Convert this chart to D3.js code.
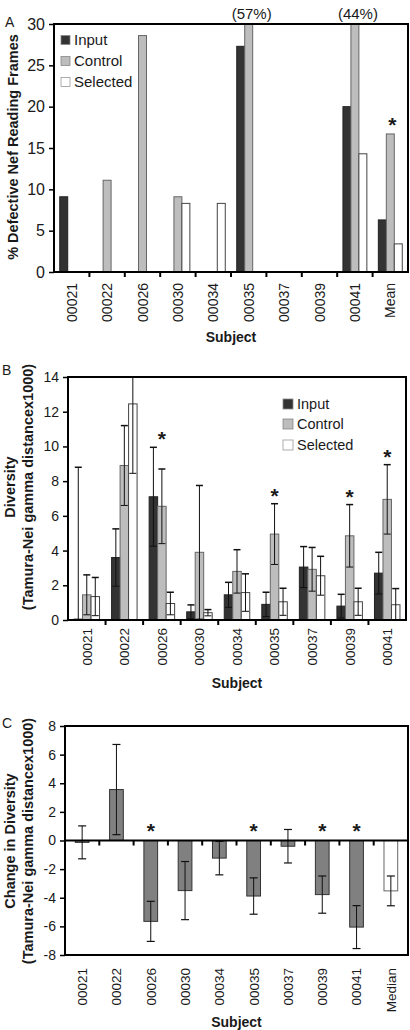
<!DOCTYPE html>
<html><head><meta charset="utf-8">
<script src="https://cdn.jsdelivr.net/npm/d3@7"></script>
<style>
body{margin:0;background:#fff}
svg{display:block}
text{font-family:"Liberation Sans",Arial,sans-serif;fill:#1a1a1a}
</style>
</head><body>
<svg id="c" width="410" height="1030"></svg>
<script>
// ---------------- DATA ----------------
const series = ["Input","Control","Selected"];
// Panel A: % defective Nef reading frames
const subjectsA = ["00021","00022","00026","00030","00034","00035","00037","00039","00041","Mean"];
const inputA    = [9.1, 0,    0,    0,   0,   27.3, 0, 0, 20.0, 6.3];
const controlA  = [0,   11.1, 28.6, 9.1, 0,   57,   0, 0, 44,   16.7];
const selectedA = [0,   0,    0,    8.3, 8.3, 0,    0, 0, 14.3, 3.4];
const ticksA = [0,5,10,15,20,25,30];
const starsA = [{s:"Mean", k:"Control"}];

// Panel B: diversity
const subjectsB = ["00021","00022","00026","00030","00034","00035","00037","00039","00041"];
const inputB       = [0.05, 3.6,  7.1,  0.47, 1.45, 0.9,  3.05, 0.8,  2.7];
const inputErrB    = [8.75, 1.65, 2.85, 0.4,  0.72, 0.7,  1.18, 0.68, 1.2];
const controlB     = [1.45, 8.9,  6.55, 3.9,  2.8,  4.95, 2.92, 4.85, 6.95];
const controlErrB  = [1.15, 2.3,  2.15, 3.85, 1.25, 1.75, 1.26, 1.8,  2.0];
const selectedB    = [1.35, 12.45,0.95, 0.42, 1.58, 1.05, 2.55, 1.05, 0.88];
const selectedErrB = [1.1,  4.0,  0.65, 0.18, 1.08, 0.78, 1.12, 0.78, 0.93];
const ticksB = [0,2,4,6,8,10,12,14];
const starsB = ["00026","00035","00039","00041"];

// Panel C: change in diversity
const subjectsC = ["00021","00022","00026","00030","00034","00035","00037","00039","00041","Median"];
const changeC    = [-0.13, 3.56, -5.65, -3.5,  -1.23, -3.88, -0.4,  -3.78, -6.05, -3.52];
const changeErrC = [1.15,  3.15, 1.4,   2.03,  1.17,  1.27,  1.17,  1.3,   1.5,   1.04];
const ticksC = [-8,-6,-4,-2,0,2,4,6,8];
const starsC = ["00026","00035","00039","00041"];

// ---------------- STYLE ----------------
const fills = {Input:"#333333", Control:"#bdbdbd", Selected:"#ffffff"};
const strokes = {Input:"#222", Control:"#666", Selected:"#444"};
const svg = d3.select("#c");

function yAxis(g, y, ticks, fs, x0){
  const ax = g.append("g").attr("transform",`translate(${x0},0)`)
    .call(d3.axisLeft(y).tickValues(ticks).tickSize(5).tickPadding(4).tickFormat(d=>String(d)));
  ax.select(".domain").remove();
  ax.selectAll("line").attr("stroke","#000").attr("stroke-width",1.5);
  ax.selectAll("text").attr("font-size",fs).attr("fill","#222").style("font-family",'"Liberation Sans",Arial,sans-serif');
}
function frame(g, x0, x1, y0, y1){
  g.append("rect").attr("x",x0).attr("y",y0).attr("width",x1-x0).attr("height",y1-y0)
    .attr("fill","none").attr("stroke","#000").attr("stroke-width",2);
}
function boundaryTicks(g, x, yLine, len){
  const b = x.domain().map(s=>x(s)).slice(1);
  g.selectAll(null).data(b).join("line")
    .attr("x1",d=>d).attr("x2",d=>d).attr("y1",yLine).attr("y2",yLine+len)
    .attr("stroke","#000").attr("stroke-width",2);
}
function xLabels(g, x, top, fs){
  g.selectAll(null).data(x.domain()).join("text")
    .attr("transform",d=>`translate(${x(d)+x.bandwidth()/2+fs*0.36},${top}) rotate(-90)`)
    .attr("text-anchor","end").attr("font-size",fs).text(d=>d);
}
function rotLabel(g, lines, cy, fs){
  lines.forEach(l=>{
    g.append("text").attr("transform",`translate(${l.x},${cy}) rotate(-90)`)
      .attr("text-anchor","middle").attr("font-size",fs).attr("font-weight","bold").text(l.t);
  });
}
function legend(g, x0, ys, fs, sq){
  series.forEach((k,i)=>{
    g.append("rect").attr("x",x0).attr("y",ys[i]-sq/2).attr("width",sq).attr("height",sq)
      .attr("fill",fills[k]).attr("stroke",k==="Selected"?"#999":"#888").attr("stroke-width",0.8);
    g.append("text").attr("x",x0+sq+4).attr("y",ys[i]+fs*0.36).attr("font-size",fs).text(k);
  });
}
function star(sel){
  return sel.attr("text-anchor","middle").attr("font-size",21).attr("font-weight","bold").text("*");
}

// ---------------- PANEL A ----------------
(function(){
  const g = svg.append("g");
  const L=54, R=408, T=24, B=272;
  const x = d3.scaleBand().domain(subjectsA).range([L,R]);
  const xi = d3.scaleBand().domain(series).range([0,x.bandwidth()]).paddingOuter(0.72);
  const y = d3.scaleLinear().domain([0,30]).range([B,T]);
  const vals = {Input:inputA, Control:controlA, Selected:selectedA};
  const data = subjectsA.flatMap((s,i)=>series.map(k=>({s,k,v:vals[k][i]}))).filter(d=>d.v>0);
  g.selectAll(null).data(data).join("rect")
    .attr("x",d=>x(d.s)+xi(d.k)).attr("width",xi.bandwidth())
    .attr("y",d=>y(Math.min(d.v,30))).attr("height",d=>y(0)-y(Math.min(d.v,30)))
    .attr("fill",d=>fills[d.k]).attr("stroke",d=>strokes[d.k]).attr("stroke-width",1);
  // off-scale labels
  g.selectAll(null).data(data.filter(d=>d.v>30)).join("text")
    .attr("x",d=>x(d.s)+xi(d.k)+xi.bandwidth()/2+3).attr("y",T-5)
    .attr("text-anchor","middle").attr("font-size",15).text(d=>`(${d.v}%)`);
  // stars
  star(g.selectAll(null).data(starsA).join("text")
    .attr("x",d=>x(d.s)+xi(d.k)+xi.bandwidth()/2+2)
    .attr("y",d=>y(controlA[subjectsA.indexOf(d.s)])-2));
  frame(g,L,R,T,B);
  yAxis(g,y,ticksA,16,L);
  boundaryTicks(g,x,B,5);
  xLabels(g,x,B+11,14);
  g.append("text").attr("x",(L+R)/2).attr("y",342).attr("text-anchor","middle")
    .attr("font-size",14).attr("font-weight","bold").text("Subject");
  rotLabel(g,[{x:18,t:"% Defective Nef Reading Frames"}],147,14.5);
  g.append("text").attr("x",5).attr("y",27).attr("font-size",14).text("A");
  legend(g,61,[40,61,82],15,9);
})();

// ---------------- PANEL B ----------------
(function(){
  const g = svg.append("g");
  const L=68, R=406, T=377, B=620;
  const x = d3.scaleBand().domain(subjectsB).range([L,R]);
  const xi = d3.scaleBand().domain(series).range([0,x.bandwidth()]).paddingOuter(0.71);
  const y = d3.scaleLinear().domain([0,14]).range([B,T]);
  const vals = {Input:[inputB,inputErrB], Control:[controlB,controlErrB], Selected:[selectedB,selectedErrB]};
  const data = subjectsB.flatMap((s,i)=>series.map(k=>({s,k,v:vals[k][0][i],e:vals[k][1][i]})));
  g.selectAll(null).data(data).join("rect")
    .attr("x",d=>x(d.s)+xi(d.k)).attr("width",xi.bandwidth())
    .attr("y",d=>y(d.v)).attr("height",d=>y(0)-y(d.v))
    .attr("fill",d=>fills[d.k]).attr("stroke",d=>strokes[d.k]).attr("stroke-width",1);
  const cx = d=>x(d.s)+xi(d.k)+xi.bandwidth()/2;
  const cw = 3.5;
  g.selectAll(null).data(data).join("line")
    .attr("x1",cx).attr("x2",cx)
    .attr("y1",d=>y(Math.max(0,d.v-d.e))).attr("y2",d=>y(Math.min(14,d.v+d.e)))
    .attr("stroke","#111").attr("stroke-width",1);
  g.selectAll(null).data(data.filter(d=>d.v+d.e<=14)).join("line")
    .attr("x1",d=>cx(d)-cw).attr("x2",d=>cx(d)+cw)
    .attr("y1",d=>y(d.v+d.e)).attr("y2",d=>y(d.v+d.e))
    .attr("stroke","#111").attr("stroke-width",1.5);
  g.selectAll(null).data(data.filter(d=>d.v-d.e>0)).join("line")
    .attr("x1",d=>cx(d)-cw).attr("x2",d=>cx(d)+cw)
    .attr("y1",d=>y(d.v-d.e)).attr("y2",d=>y(d.v-d.e))
    .attr("stroke","#111").attr("stroke-width",1);
  // stars
  star(g.selectAll(null).data(starsB).join("text")
    .attr("x",s=>x(s)+xi("Control")+xi.bandwidth()/2)
    .attr("y",s=>{const i=subjectsB.indexOf(s);
      const top=Math.max(inputB[i]+inputErrB[i],controlB[i]+controlErrB[i],selectedB[i]+selectedErrB[i]);
      return y(top)-1;}));
  frame(g,L,R,T,B);
  yAxis(g,y,ticksB,14,L);
  boundaryTicks(g,x,B,5);
  xLabels(g,x,B+8,13.5);
  g.append("text").attr("x",(L+R)/2).attr("y",688).attr("text-anchor","middle")
    .attr("font-size",14).attr("font-weight","bold").text("Subject");
  rotLabel(g,[{x:15,t:"Diversity"},{x:33,t:"(Tamura-Nei gamma distancex1000)"}],487,14.5);
  g.append("text").attr("x",2).attr("y",375).attr("font-size",14).text("B");
  legend(g,283,[404,424,445],14.5,10);
})();

// ---------------- PANEL C ----------------
(function(){
  const g = svg.append("g");
  const L=65, R=408, T=726, B=955;
  const x = d3.scaleBand().domain(subjectsC).range([L,R]);
  const y = d3.scaleLinear().domain([-8,8]).range([B,T]);
  const bw = x.bandwidth()*0.4;
  const data = subjectsC.map((s,i)=>({s,v:changeC[i],e:changeErrC[i]}));
  const cx = d=>x(d.s)+x.bandwidth()/2;
  g.selectAll(null).data(data).join("rect")
    .attr("x",d=>cx(d)-bw/2).attr("width",bw)
    .attr("y",d=>y(Math.max(0,d.v))).attr("height",d=>Math.abs(y(d.v)-y(0)))
    .attr("fill",d=>d.s==="Median"?"#fff":"#808080").attr("stroke",d=>d.s==="Median"?"#666":"#333").attr("stroke-width",1);
  const cw = 4;
  g.selectAll(null).data(data).join("line")
    .attr("x1",cx).attr("x2",cx).attr("y1",d=>y(d.v-d.e)).attr("y2",d=>y(d.v+d.e))
    .attr("stroke","#111").attr("stroke-width",1);
  g.selectAll(null).data(data.flatMap(d=>[{...d,w:d.v-d.e},{...d,w:d.v+d.e}])).join("line")
    .attr("x1",d=>cx(d)-cw).attr("x2",d=>cx(d)+cw).attr("y1",d=>y(d.w)).attr("y2",d=>y(d.w))
    .attr("stroke","#111").attr("stroke-width",1.2);
  // zero line
  g.append("line").attr("x1",L).attr("x2",R).attr("y1",y(0)).attr("y2",y(0)).attr("stroke","#000").attr("stroke-width",2);
  boundaryTicks(g,x,y(0),5);
  star(g.selectAll(null).data(starsC).join("text")
    .attr("x",s=>x(s)+x.bandwidth()/2).attr("y",y(0)-3));
  frame(g,L,R,T,B);
  yAxis(g,y,ticksC,14,L);
  xLabels(g,x,B+13,13.5);
  g.append("text").attr("x",(L+R)/2).attr("y",1027).attr("text-anchor","middle")
    .attr("font-size",14).attr("font-weight","bold").text("Subject");
  rotLabel(g,[{x:15,t:"Change in Diversity"},{x:33,t:"(Tamura-Nei gamma distancex1000)"}],841,14.5);
  g.append("text").attr("x",2).attr("y",728).attr("font-size",14).text("C");
})();
</script>
</body></html>
